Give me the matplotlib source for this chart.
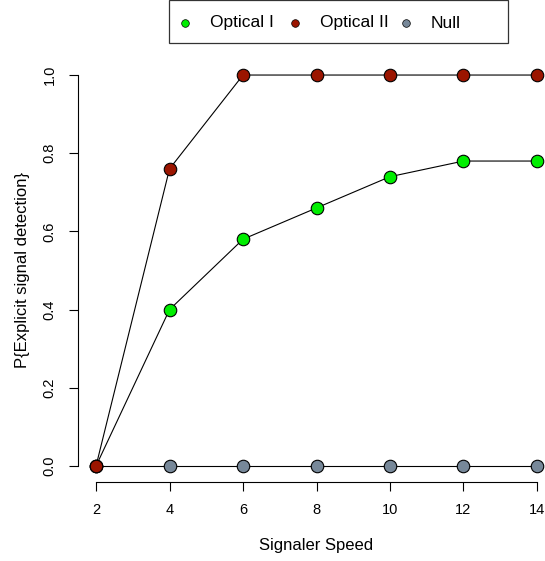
import numpy as np
import matplotlib.pyplot as plt
from matplotlib.patches import Rectangle
from matplotlib.lines import Line2D

plt.rcParams['font.family'] = ['Liberation Sans', 'DejaVu Sans']

speed = [2, 4, 6, 8, 10, 12, 14]
optical_1 = [0.0, 0.40, 0.58, 0.66, 0.74, 0.78, 0.78]
optical_2 = [0.0, 0.76, 1.0, 1.0, 1.0, 1.0, 1.0]
null = [0.0, 0.0, 0.0, 0.0, 0.0, 0.0, 0.0]
series_names = ['Optical I', 'Optical II', 'Null']
series_colors = ['#00EE00', '#9B1500', '#778899']
x_ticks = [2, 4, 6, 8, 10, 12, 14]
y_ticks = [0.0, 0.2, 0.4, 0.6, 0.8, 1.0]

W, H = 545, 561
fig = plt.figure(figsize=(W/100, H/100), dpi=100)
# plot region like R's default (4% padding), runs a bit past the right edge
ax = fig.add_axes([78.4/W, 79.4/H, 476.2/W, 422.2/H])
ax.set_xlim(1.52, 14.48)
ax.set_ylim(-0.04, 1.04)

for ys, col in [(null, series_colors[2]),
                (optical_1, series_colors[0]),
                (optical_2, series_colors[1])]:
    ax.plot(speed, ys, color='black', lw=0.8, zorder=2)
    ax.plot(speed, ys, 'o', ms=9, mfc=col, mec='black', mew=0.8, zorder=3, clip_on=False)

for s in ['top', 'right']:
    ax.spines[s].set_visible(False)
ax.spines['left'].set_bounds(0, 1)
ax.spines['bottom'].set_bounds(2, 14)
ax.spines['left'].set_linewidth(0.8)
ax.spines['bottom'].set_linewidth(0.8)

ax.set_xticks(x_ticks)
ax.set_yticks(y_ticks)
ax.set_yticklabels([f'{v:.1f}' for v in y_ticks], rotation=90, va='center')
ax.tick_params(direction='out', length=6.5, width=0.8, labelsize=10.5, pad=9)
ax.set_xlabel('Signaler Speed', fontsize=12, labelpad=15)
ax.set_ylabel('P{Explicit signal detection}', fontsize=12, labelpad=9)

# legend box drawn by hand, R style
fig.patches.append(Rectangle((169/W, 1 - 43/H), 339/W, 42.5/H, transform=fig.transFigure,
                             fill=False, edgecolor='#333333', lw=0.9))
leg_mark_x = [185, 295, 406]
leg_text_x = [210, 320, 431]
for mx, tx, name, col in zip(leg_mark_x, leg_text_x, series_names, series_colors):
    fig.lines.append(Line2D([mx/W], [1 - 23/H], transform=fig.transFigure, marker='o', ms=5.5,
                            mfc=col, mec='black', mew=0.5, ls='none'))
    fig.text(tx/W, 1 - 23/H, name, fontsize=12.5, va='center', ha='left')

fig.savefig('out.png', dpi=100)
